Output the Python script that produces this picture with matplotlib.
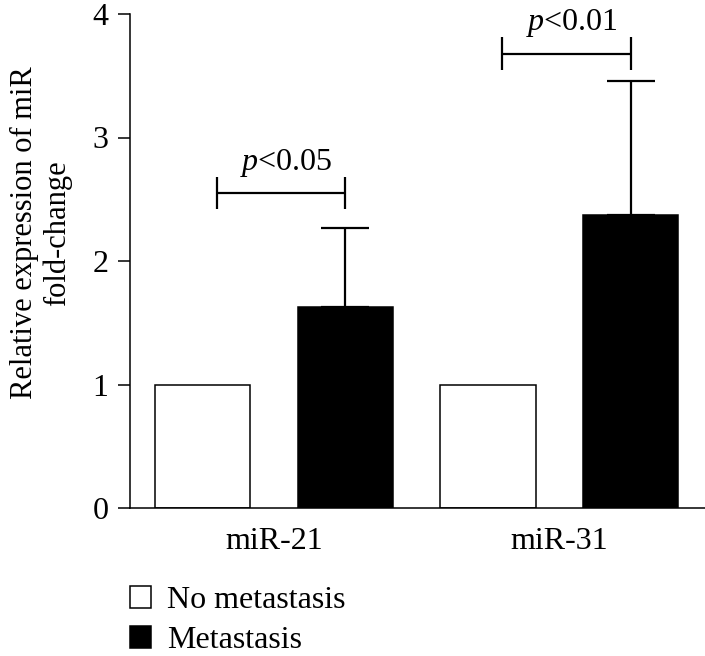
import matplotlib
matplotlib.use("Agg")
import matplotlib.pyplot as plt
from matplotlib.patches import Patch
import numpy as np

categories = ["miR-21", "miR-31"]
no_metastasis = [1.0, 1.0]
metastasis = [1.63, 2.37]
metastasis_err = [0.64, 1.09]
p_labels = ["0.05", "0.01"]
bracket_heights = [2.55, 3.68]
yticks = [0, 1, 2, 3, 4]
legend_labels = ["No metastasis", "Metastasis"]

plt.rcParams["font.family"] = ["Liberation Serif", "DejaVu Serif"]
plt.rcParams["mathtext.fontset"] = "custom"
plt.rcParams["mathtext.it"] = "Liberation Serif:italic"
plt.rcParams["mathtext.rm"] = "Liberation Serif"

FS = 23

W, H = 705, 656
fig = plt.figure(figsize=(W / 100, H / 100), dpi=100)
ax = fig.add_axes([130 / W, 1 - 508 / H, (705 - 130) / W, (508 - 14) / H])

x = np.arange(len(categories))
off = 0.25
width = 0.333
lw = 1.1

ax.bar(x - off, no_metastasis, width, color="white", edgecolor="black", linewidth=lw, zorder=2)
ax.bar(x + off, metastasis, width, color="black", edgecolor="black", linewidth=lw, zorder=2)
ax.errorbar(x + off, metastasis, yerr=[np.zeros(len(x)), metastasis_err], fmt="none",
            ecolor="black", elinewidth=1.6, capsize=17, capthick=1.6, zorder=1)

tick_h = 0.13
for i, (h, p) in enumerate(zip(bracket_heights, p_labels)):
    x0 = x[i] - 0.20
    x1 = x[i] + off
    ax.plot([x0, x1], [h, h], color="black", lw=1.6, solid_capstyle="butt")
    ax.plot([x0, x0], [h - tick_h, h + tick_h], color="black", lw=1.6, solid_capstyle="butt")
    ax.plot([x1, x1], [h - tick_h, h + tick_h], color="black", lw=1.6, solid_capstyle="butt")
    ax.text((x0 + x1) / 2 + 0.02, h + 0.19, r"$p$<" + p, ha="center", va="baseline", fontsize=FS)

ax.set_xlim(-0.504, 1.51)
ax.set_ylim(0, 4)
ax.set_yticks(yticks)
ax.set_yticklabels([str(t) for t in yticks], fontsize=FS)
ax.set_xticks(x)
ax.set_xticklabels(categories, fontsize=FS)
ax.tick_params(axis="x", length=0, pad=14)
ax.tick_params(axis="y", length=8.5, width=lw, pad=7)
for s in ["top", "right"]:
    ax.spines[s].set_visible(False)
for s in ["left", "bottom"]:
    ax.spines[s].set_linewidth(lw)

fig.text(41 / W, 1 - 233 / H, "Relative expression of miR\nfold-change", rotation=90,
         ha="center", va="center", multialignment="center", fontsize=22, linespacing=1.15)

handles = [Patch(facecolor="white", edgecolor="black", linewidth=1.1),
           Patch(facecolor="black", edgecolor="black", linewidth=1.1)]
fig.legend(handles, legend_labels, loc="upper left", bbox_to_anchor=(130 / W, 1 - 586 / H),
           frameon=False, fontsize=FS, handlelength=0.66, handleheight=0.66,
           handletextpad=0.5, labelspacing=0.35, borderpad=0, borderaxespad=0)

fig.savefig("out.png", dpi=100)
